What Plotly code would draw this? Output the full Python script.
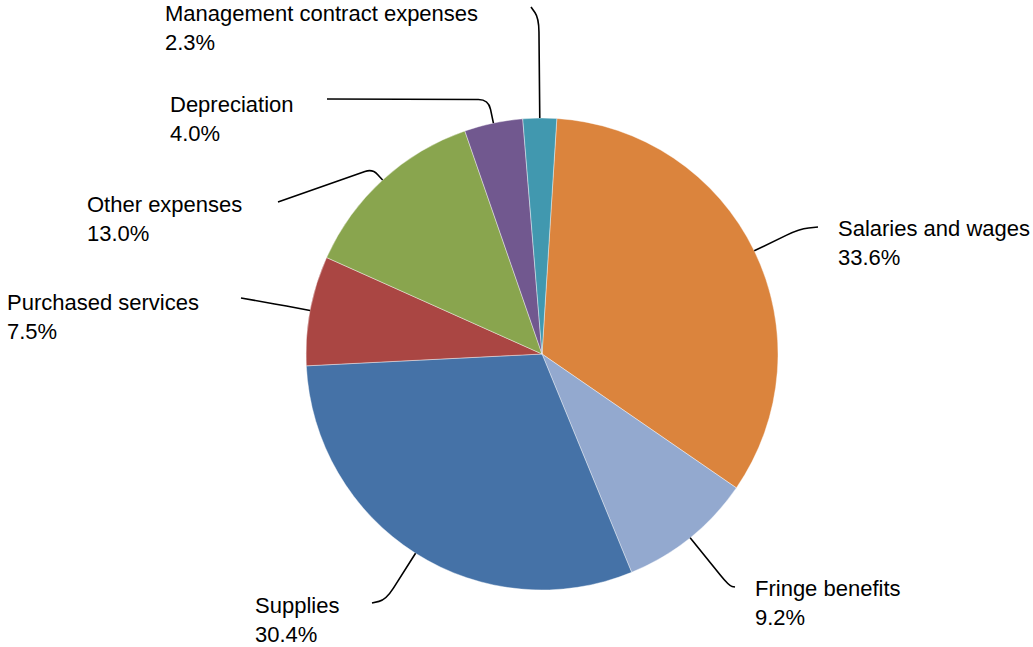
import math
import plotly.graph_objects as go

# ---- data ----
labels = ["Salaries and wages", "Fringe benefits", "Supplies", "Purchased services",
          "Other expenses", "Depreciation", "Management contract expenses"]
values = [33.6, 9.2, 30.4, 7.5, 13.0, 4.0, 2.3]
colors = ["#DB843D", "#93A9CF", "#4572A7", "#AA4643", "#89A54E", "#71588F", "#4198AF"]

# ---- layout (pixel geometry) ----
W, H = 1033, 647
CX, CY, R = 542, 354, 236
ROTATION = 3.6
# label text top-left (x, cap-top y), leader end point, radial extension, corner rounding
label_pos = [(838, 223), (755, 583), (255, 600), (7, 297), (87, 199), (170, 99), (165, 8)]
leader_end = [(818, 227), (735, 587), (372, 603), (241, 298), (278, 202), (327, 99), (531, 7)]
leader_ext = [50, 62, 55, 30, 15, 24, 100]
leader_round = [14, 14, 14, 6, 8, 10, 14]

FONT = "Liberation Sans, Arial, sans-serif"
FS = 22


def px(x, y):
    return x / W, 1 - y / H


fig = go.Figure(go.Pie(
    labels=labels, values=values, sort=False, direction="clockwise",
    rotation=ROTATION, textinfo="none", hoverinfo="label+percent",
    marker=dict(colors=colors, line=dict(color="rgba(255,255,255,0.4)", width=1)),
    domain=dict(x=[(CX - R) / W, (CX + R) / W], y=[1 - (CY + R) / H, 1 - (CY - R) / H]),
    showlegend=False,
))

total = sum(values)
cum = 0.0
shapes, annotations = [], []
for i, (lab, v) in enumerate(zip(labels, values)):
    mid = math.radians(ROTATION + 360 * (cum + v / 2) / total)
    cum += v
    dx, dy = math.sin(mid), -math.cos(mid)
    p0 = (CX + R * dx, CY + R * dy)
    c = (CX + (R + leader_ext[i]) * dx, CY + (R + leader_ext[i]) * dy)
    e = leader_end[i]

    def toward(a, b, d):
        L = math.hypot(b[0] - a[0], b[1] - a[1])
        d = min(d, L / 2)
        return (a[0] + (b[0] - a[0]) * d / L, a[1] + (b[1] - a[1]) * d / L)

    rr = leader_round[i]
    a = toward(c, p0, rr)
    b = toward(c, e, rr)
    pts = [px(*p0), px(*a), px(*c), px(*b), px(*e)]
    path = "M {0[0]},{0[1]} L {1[0]},{1[1]} Q {2[0]},{2[1]} {3[0]},{3[1]} L {4[0]},{4[1]}".format(*pts)
    shapes.append(dict(type="path", xref="paper", yref="paper", path=path,
                       line=dict(color="black", width=1.6)))

    tx, ty = label_pos[i]
    ax, ay = px(tx - 1, ty - 8)
    annotations.append(dict(
        x=ax, y=ay, xref="paper", yref="paper", xanchor="left", yanchor="top",
        align="left", showarrow=False, borderpad=0,
        text=f"{lab}<br>{v:.1f}%",
        font=dict(family=FONT, size=FS, color="black"),
    ))

fig.update_layout(
    width=W, height=H, margin=dict(l=0, r=0, t=0, b=0),
    paper_bgcolor="white", plot_bgcolor="white",
    shapes=shapes, annotations=annotations,
)

fig.write_html("out.html", config={"displayModeBar": False})
